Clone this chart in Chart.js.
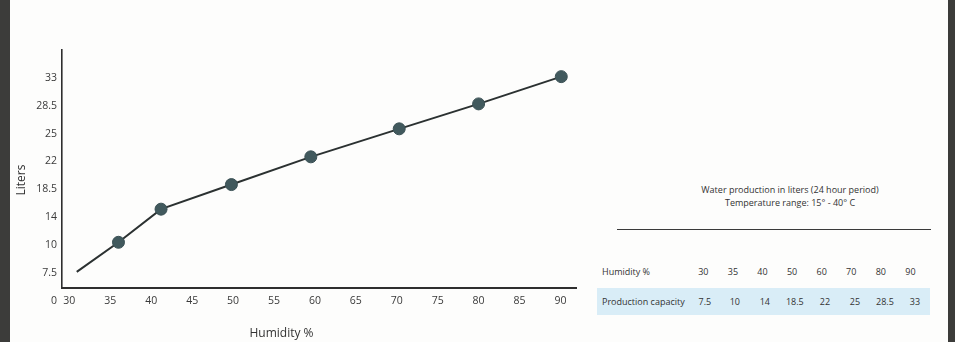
<!DOCTYPE html>
<html><head><meta charset="utf-8">
<script src="https://cdn.jsdelivr.net/npm/chart.js@4/dist/chart.umd.min.js"></script>
<style>
html,body{margin:0;padding:0;background:#fdfdfc;}
#page{position:relative;width:955px;height:342px;overflow:hidden;background:#fdfdfc;font-family:"Open Sans",sans-serif;color:#333;}
.strip{position:absolute;top:0;height:342px;background:#3c3c3a;}
#wrap{position:absolute;left:0;top:0;width:590px;height:342px;}
#ttl{position:absolute;left:690px;width:200px;top:184px;text-align:center;font-size:9px;line-height:12.5px;color:#333;}
#rule{position:absolute;left:617px;width:314px;top:228.5px;height:1.5px;background:#3a3a3a;}
table{position:absolute;left:597px;border-collapse:collapse;font-size:9px;color:#333;}
td{padding:0;text-align:center;width:29.6px;}
td.h{text-align:left;width:86.5px;padding-left:5px;}
#t1{top:264px;}
#t2{top:288.3px;background:#d9edf7;width:333px;}
#t2 td{height:27px;}
#t1 td{height:15px;}
</style></head>
<body><div id="page">
<div class="strip" style="left:0;width:9.5px"></div>
<div class="strip" style="left:948px;width:7px"></div>
<div id="wrap"><canvas id="c"></canvas></div>
<div id="ttl">Water production in liters (24 hour period)<br>Temperature range: 15° - 40° C</div>
<div id="rule"></div>
<table id="t1"><tr id="r1"><td class="h">Humidity %</td></tr></table>
<table id="t2"><tr id="r2"><td class="h">Production capacity</td></tr></table>
</div>
<script>
// Axis ticks
const xTickLabels = [30, 35, 40, 45, 50, 55, 60, 65, 70, 75, 80, 85, 90];
const yTickLabels = ['0', '7.5', '10', '14', '18.5', '22', '25', '28.5', '33'];
const yTickValues = [0, 7.5, 10, 14, 18.5, 22, 25, 28.5, 33];
// Plotted series
const humidity = [30.9, 36.0, 41.2, 49.8, 59.5, 70.3, 80.0, 90.1];
const liters   = [7.6, 10.4, 15.3, 19.1, 22.5, 25.6, 28.8, 33.2];
const showMarker = [false, true, true, true, true, true, true, true];
// Side table
const tableHumidity = ['30', '35', '40', '50', '60', '70', '80', '90'];
const tableCapacity = ['7.5', '10', '14', '18.5', '22', '25', '28.5', '33'];

// fill the table
const r1 = document.getElementById('r1'), r2 = document.getElementById('r2');
tableHumidity.forEach(v => { const td = document.createElement('td'); td.textContent = v; r1.appendChild(td); });
tableCapacity.forEach(v => { const td = document.createElement('td'); td.textContent = v; r2.appendChild(td); });

// the y axis is evenly spaced by tick label, map liters onto it piecewise
function toAxis(v) {
  const t = yTickValues;
  for (let i = 1; i < t.length; i++) {
    if (v <= t[i]) return (i - 1) + (v - t[i - 1]) / (t[i] - t[i - 1]);
  }
  const n = t.length - 1;
  return n + (v - t[n]) / (t[n] - t[n - 1]);
}

const pts = humidity.map((h, i) => ({ x: h, y: toAxis(liters[i]) }));
const tickFont = { family: '"Open Sans", sans-serif', size: 10.5 };

const titles = {
  id: 'axisTitles',
  afterDraw(chart) {
    const ctx = chart.ctx, a = chart.chartArea;
    ctx.save();
    ctx.fillStyle = '#333';
    ctx.font = '12px "Open Sans", sans-serif';
    ctx.textAlign = 'center';
    ctx.textBaseline = 'middle';
    ctx.fillText('Humidity %', a.left + 219.5, a.bottom + 46);
    ctx.translate(a.left - 40.3, a.top + 130);
    ctx.rotate(-Math.PI / 2);
    ctx.fillText('Liters', 0, 0);
    ctx.restore();
  }
};

new Chart(document.getElementById('c'), {
  type: 'line',
  data: {
    datasets: [{
      data: pts,
      borderColor: '#2b3131',
      borderWidth: 2,
      pointBackgroundColor: '#41595d',
      pointBorderColor: '#3a5054',
      pointBorderWidth: 1,
      pointRadius: showMarker.map(s => s ? 6 : 0),
      tension: 0,
      fill: false
    }]
  },
  options: {
    responsive: true,
    maintainAspectRatio: false,
    animation: false,
    events: [],
    layout: { padding: { top: 50, left: 0, right: 14, bottom: 0 } },
    plugins: { legend: { display: false }, tooltip: { enabled: false } },
    scales: {
      x: {
        type: 'linear',
        min: 29.1,
        max: 91.9,
        afterBuildTicks: s => { s.ticks = xTickLabels.map(v => ({ value: v })); },
        afterFit: s => { s.height = 54; },
        grid: { display: false, drawTicks: false },
        border: { display: true, color: '#2e2e2e', width: 2 },
        ticks: { autoSkip: false, maxRotation: 0, padding: 7, color: '#3a3a3a', font: tickFont,
                 callback: v => String(v) }
      },
      y: {
        type: 'linear',
        min: 0.46,
        max: 9.0,
        afterBuildTicks: s => { s.ticks = yTickLabels.map((l, i) => ({ value: i })); },
        afterFit: s => { s.width = 62; },
        grid: { display: false, drawTicks: false },
        border: { display: true, color: '#2e2e2e', width: 1.6 },
        ticks: { autoSkip: false, padding: 5, color: '#3a3a3a', font: tickFont,
                 callback: v => yTickLabels[Math.round(v)] }
      }
    }
  },
  plugins: [titles]
});
</script>
</body></html>
